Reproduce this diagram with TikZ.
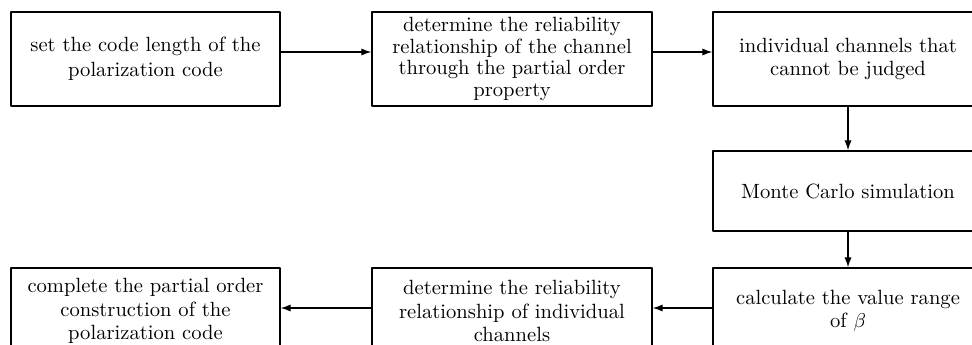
\documentclass[tikz,border=0pt]{standalone}
\usepackage{amsmath,amssymb}
\usetikzlibrary{arrows.meta}

\begin{document}
\begin{tikzpicture}[x=0.5pt, y=-0.5pt, line cap=round, line join=round, >={Latex[length=5pt,width=3.6pt]},
    stepbox/.style={draw, line width=0.7pt, align=center, inner sep=0pt, minimum height=47pt, font=\fontsize{10.3}{11.6}\selectfont}]
    \clip (0,0) rectangle (972,344);

    \node[stepbox, minimum width=134.5pt] (len) at (145.5,59) {set the code length of the\\[0.8pt]polarization code};
    \node[stepbox, minimum width=140pt, font=\fontsize{10.3}{10.9}\selectfont] (order) at (512,59) {determine the reliability\\relationship of the channel\\through the partial order\\property};
    \node[stepbox, minimum width=135pt] (judge) at (848,59) {individual channels that\\cannot be judged};
    \node[stepbox, minimum width=135pt, minimum height=40pt] (mc) at (848,191) {Monte Carlo simulation};
    \node[stepbox, minimum width=135pt, minimum height=43pt] (range) at (848,311) {calculate the value range\\of $\beta$};
    \node[stepbox, minimum width=140pt, minimum height=43pt] (indiv) at (512,311) {determine the reliability\\relationship of individual\\channels};
    \node[stepbox, minimum width=134.5pt, minimum height=43pt] (done) at (145.5,311) {complete the partial order\\construction of the\\polarization code};

    \draw[->, line width=0.6pt] ([yshift=3.5pt]len.east) -- ([yshift=3.5pt]order.west);
    \draw[->, line width=0.6pt] ([yshift=3.5pt]order.east) -- ([yshift=3.5pt]judge.west);
    \draw[->, line width=0.6pt] (judge) -- (mc);
    \draw[->, line width=0.6pt] (mc) -- (range);
    \draw[->, line width=0.6pt] (range.west |- 0,308) -- (indiv.east |- 0,308);
    \draw[->, line width=0.6pt] (indiv.west |- 0,308) -- (done.east |- 0,308);
\end{tikzpicture}
\end{document}
